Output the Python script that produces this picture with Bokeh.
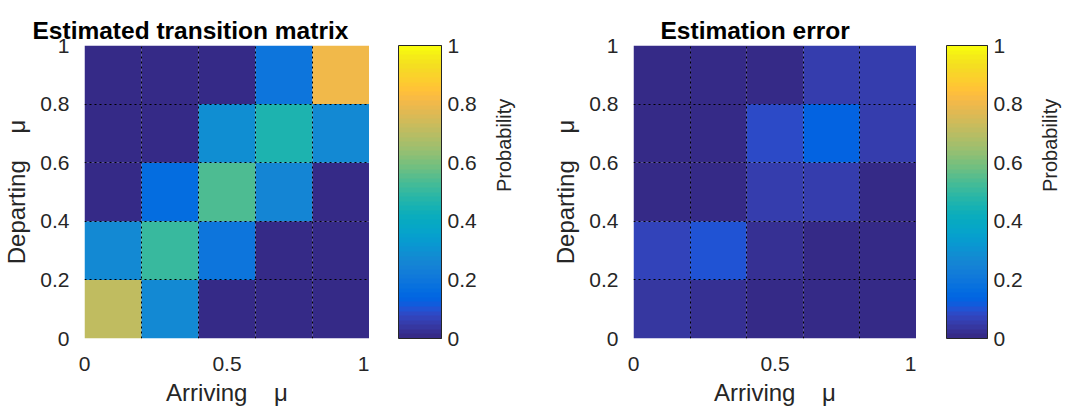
import math
from bokeh.plotting import figure
from bokeh.layouts import row
from bokeh.models import (ColumnDataSource, LinearColorMapper, ColorBar, FixedTicker, Title)
from bokeh.embed import file_html
from bokeh.resources import INLINE

# ---------------- data ----------------
arriving_edges = [0.0, 0.2, 0.4, 0.6, 0.8, 1.0]
departing_edges = [0.0, 0.2, 0.4, 0.6, 0.8, 1.0]

# rows: departing bins (bottom -> top); columns: arriving bins (left -> right)
estimated = [
    [0.71, 0.27, 0.005, 0.005, 0.005],
    [0.27, 0.51, 0.20, 0.005, 0.005],
    [0.005, 0.17, 0.54, 0.26, 0.005],
    [0.005, 0.005, 0.29, 0.46, 0.27],
    [0.005, 0.005, 0.005, 0.19, 0.80],
]
error = [
    [0.035, 0.02, 0.005, 0.005, 0.005],
    [0.075, 0.10, 0.025, 0.005, 0.005],
    [0.005, 0.005, 0.055, 0.055, 0.005],
    [0.005, 0.005, 0.085, 0.13, 0.05],
    [0.005, 0.005, 0.005, 0.05, 0.05],
]

x_ticks = [0, 0.5, 1]
x_tick_labels = ["0", "0.5", "1"]
y_ticks = [0, 0.2, 0.4, 0.6, 0.8, 1]
y_tick_labels = ["0", "0.2", "0.4", "0.6", "0.8", "1"]
grid_ticks = [0, 0.2, 0.4, 0.6, 0.8, 1]
cb_ticks = [0, 0.2, 0.4, 0.6, 0.8, 1]
cb_tick_labels = ["0", "0.2", "0.4", "0.6", "0.8", "1"]

titles = ["Estimated transition matrix", "Estimation error"]
x_label = "Arriving\u00a0\u00a0\u00a0\u00a0\u03bc"
y_label = "Departing\u00a0\u00a0\u00a0\u00a0\u03bc"
cb_label = "Probability"

# MATLAB parula (64 colours)
PARULA_RGB = [
    (0.2081, 0.1663, 0.5292), (0.2116, 0.1898, 0.5777), (0.2123, 0.2138, 0.6270), (0.2081, 0.2386, 0.6771),
    (0.1959, 0.2645, 0.7279), (0.1707, 0.2919, 0.7792), (0.1253, 0.3242, 0.8303), (0.0591, 0.3598, 0.8683),
    (0.0117, 0.3875, 0.8820), (0.0060, 0.4086, 0.8828), (0.0165, 0.4266, 0.8786), (0.0329, 0.4430, 0.8720),
    (0.0498, 0.4586, 0.8641), (0.0629, 0.4737, 0.8554), (0.0723, 0.4887, 0.8467), (0.0779, 0.5040, 0.8384),
    (0.0793, 0.5200, 0.8312), (0.0749, 0.5375, 0.8263), (0.0641, 0.5570, 0.8240), (0.0488, 0.5772, 0.8228),
    (0.0343, 0.5966, 0.8199), (0.0265, 0.6137, 0.8135), (0.0239, 0.6287, 0.8038), (0.0231, 0.6418, 0.7913),
    (0.0228, 0.6535, 0.7768), (0.0267, 0.6642, 0.7607), (0.0384, 0.6743, 0.7436), (0.0590, 0.6838, 0.7254),
    (0.0843, 0.6928, 0.7062), (0.1133, 0.7015, 0.6859), (0.1453, 0.7098, 0.6646), (0.1801, 0.7177, 0.6424),
    (0.2178, 0.7250, 0.6193), (0.2586, 0.7317, 0.5954), (0.3022, 0.7376, 0.5712), (0.3482, 0.7424, 0.5473),
    (0.3953, 0.7459, 0.5244), (0.4420, 0.7481, 0.5033), (0.4871, 0.7491, 0.4840), (0.5300, 0.7491, 0.4661),
    (0.5709, 0.7485, 0.4494), (0.6099, 0.7473, 0.4337), (0.6473, 0.7456, 0.4188), (0.6834, 0.7435, 0.4044),
    (0.7184, 0.7411, 0.3905), (0.7525, 0.7384, 0.3768), (0.7858, 0.7356, 0.3633), (0.8185, 0.7327, 0.3498),
    (0.8507, 0.7299, 0.3360), (0.8824, 0.7274, 0.3217), (0.9139, 0.7258, 0.3063), (0.9450, 0.7261, 0.2886),
    (0.9739, 0.7314, 0.2666), (0.9938, 0.7455, 0.2403), (0.9990, 0.7653, 0.2164), (0.9955, 0.7861, 0.1967),
    (0.9880, 0.8066, 0.1794), (0.9789, 0.8271, 0.1633), (0.9697, 0.8481, 0.1475), (0.9626, 0.8705, 0.1309),
    (0.9589, 0.8949, 0.1132), (0.9598, 0.9218, 0.0948), (0.9661, 0.9514, 0.0755), (0.9763, 0.9831, 0.0538),
]
PARULA = ["#%02x%02x%02x" % tuple(int(round(c * 255)) for c in rgb) for rgb in PARULA_RGB]

FONT = "Liberation Sans"
TXT = "#262626"
FRAME_H = 293
TOP = 45


def style_axis(ax, tick_size="21px", label_size="24px"):
    ax.axis_line_color = None
    ax.major_tick_line_color = None
    ax.minor_tick_line_color = None
    ax.major_label_text_font = FONT
    ax.major_label_text_font_size = tick_size
    ax.major_label_text_color = TXT
    ax.axis_label_text_font = FONT
    ax.axis_label_text_font_size = label_size
    ax.axis_label_text_font_style = "normal"
    ax.axis_label_text_color = TXT


def make_heatmap(matrix, title, frame_w, left, title_offset, mapper):
    xs, ys, vals, ws, hs = [], [], [], [], []
    for i in range(len(departing_edges) - 1):
        for j in range(len(arriving_edges) - 1):
            xs.append((arriving_edges[j] + arriving_edges[j + 1]) / 2)
            ys.append((departing_edges[i] + departing_edges[i + 1]) / 2)
            ws.append(arriving_edges[j + 1] - arriving_edges[j])
            hs.append(departing_edges[i + 1] - departing_edges[i])
            vals.append(matrix[i][j])
    src = ColumnDataSource(dict(x=xs, y=ys, w=ws, h=hs, v=vals))

    p = figure(frame_width=frame_w, frame_height=FRAME_H, x_range=(0, 1), y_range=(0, 1),
               output_backend="svg", toolbar_location=None,
               min_border_left=left, min_border_right=0,
               min_border_top=TOP, min_border_bottom=62)
    p.title = Title(text=title, align="left", offset=title_offset,
                    text_font=FONT, text_font_size="24.5px", text_font_style="bold",
                    text_color="black", standoff=3)
    r = p.rect(x="x", y="y", width="w", height="h", source=src,
               fill_color={"field": "v", "transform": mapper}, line_color=None)
    r.level = "image"

    p.outline_line_color = None
    for g in (p.xgrid, p.ygrid):
        g.ticker = FixedTicker(ticks=grid_ticks)
        g.grid_line_color = "black"
        g.grid_line_dash = "2 3"
        g.grid_line_width = 1
        g.grid_line_alpha = 1.0

    p.xaxis.ticker = FixedTicker(ticks=x_ticks)
    p.xaxis.major_label_overrides = {t: s for t, s in zip(x_ticks, x_tick_labels)}
    p.yaxis.ticker = FixedTicker(ticks=y_ticks)
    p.yaxis.major_label_overrides = {t: s for t, s in zip(y_ticks, y_tick_labels)}
    p.xaxis.axis_label = x_label
    p.yaxis.axis_label = y_label
    style_axis(p.xaxis, label_size="24px")
    style_axis(p.yaxis)
    p.xaxis.major_label_standoff = 12
    p.xaxis.axis_label_standoff = 5
    p.yaxis.major_label_standoff = 9
    p.yaxis.axis_label_standoff = 7
    return p


def make_colorbar(mapper, left, frame_w, right):
    c = figure(frame_width=frame_w, frame_height=FRAME_H, x_range=(0, 1), y_range=(0, 1),
               output_backend="svg", toolbar_location=None,
               x_axis_location=None, y_axis_location="right",
               min_border_left=left, min_border_right=right,
               min_border_top=TOP, min_border_bottom=10)
    c.outline_line_color = None
    c.grid.visible = False
    cb = ColorBar(color_mapper=mapper, location=(0, 0), orientation="vertical",
                  width=frame_w, height=FRAME_H, padding=0, margin=0,
                  ticker=FixedTicker(ticks=[]), label_standoff=0,
                  major_tick_line_color=None, minor_tick_line_color=None,
                  bar_line_color=TXT, bar_line_width=1,
                  border_line_color=None, background_fill_color=None)
    c.add_layout(cb, "center")
    ax = c.yaxis[0]
    ax.ticker = FixedTicker(ticks=cb_ticks)
    ax.major_label_overrides = {t: s for t, s in zip(cb_ticks, cb_tick_labels)}
    style_axis(ax, tick_size="21px", label_size="20px")
    ax.major_tick_line_color = TXT
    ax.major_tick_in = 4
    ax.major_tick_out = 0
    ax.major_label_standoff = 6
    ax.axis_label = cb_label
    ax.axis_label_orientation = math.pi / 2
    ax.axis_label_standoff = 24
    return c


mapper1 = LinearColorMapper(palette=PARULA, low=0, high=1)
mapper2 = LinearColorMapper(palette=PARULA, low=0, high=1)

h1 = make_heatmap(estimated, titles[0], 285, 76, -52, mapper1)
c1 = make_colorbar(mapper1, 29, 43, 97)
h2 = make_heatmap(error, titles[1], 283, 95, 27, mapper2)
c2 = make_colorbar(mapper2, 30, 41, 80)
layout = row(h1, c1, h2, c2)

open("out.html", "w").write(file_html(layout, INLINE))
